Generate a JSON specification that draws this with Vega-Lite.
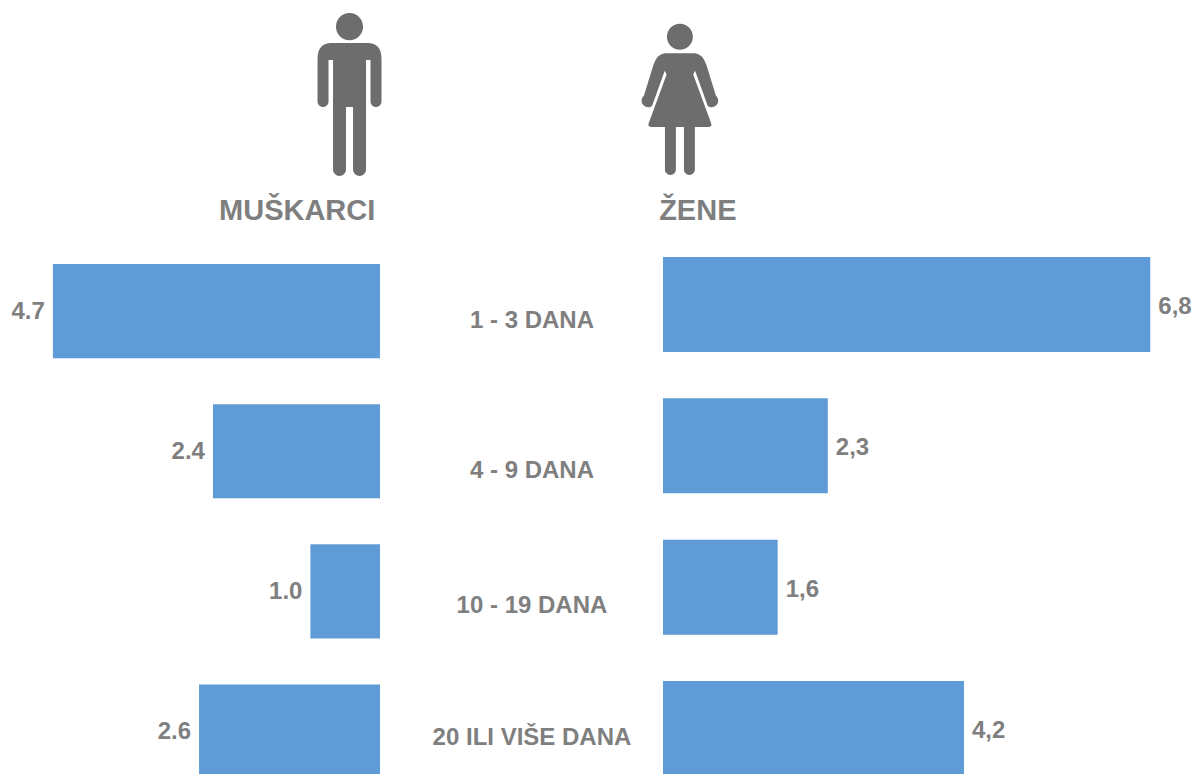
{"$schema":"https://vega.github.io/schema/vega-lite/v6.json","padding":0,"spacing":0,"bounds":"flush","background":"white","config":{"view":{"stroke":null},"text":{"font":"Liberation Sans","fontWeight":"bold","fill":"#7F7F7F"}},"hconcat":[
{"width":380,"height":774,"layer":[
{"data":{"values":[{"group":"1 - 3 DANA","value":4.7},{"group":"4 - 9 DANA","value":2.4},{"group":"10 - 19 DANA","value":1.0},{"group":"20 ILI VIŠE DANA","value":2.6}]},"mark":{"type":"bar","fill":"#5F9BD6","clip":true},"encoding":{"y":{"field":"group","type":"nominal","axis":null,"scale":{"domain":["MUŠKARCI","1 - 3 DANA","4 - 9 DANA","10 - 19 DANA","20 ILI VIŠE DANA"],"range":[124,778.5],"paddingInner":0.3286,"paddingOuter":0}},"x":{"field":"value","type":"quantitative","axis":null,"scale":{"domain":[0,5.46],"reverse":true,"nice":false}}}},
{"data":{"values":[{"group":"1 - 3 DANA","value":4.7,"label":"4.7"},{"group":"4 - 9 DANA","value":2.4,"label":"2.4"},{"group":"10 - 19 DANA","value":1.0,"label":"1.0"},{"group":"20 ILI VIŠE DANA","value":2.6,"label":"2.6"}]},"mark":{"type":"text","fontSize":24,"align":"right","dx":-8,"dy":1},"encoding":{"y":{"field":"group","type":"nominal"},"x":{"field":"value","type":"quantitative"},"text":{"field":"label"}}},
{"data":{"values":[{"group":"MUŠKARCI"}]},"mark":{"type":"text","fontSize":29,"dy":1},"encoding":{"y":{"field":"group","type":"nominal","bandPosition":0.915},"x":{"datum":1.19,"type":"quantitative"},"text":{"field":"group"}}},
{"data":{"values":[{"group":"MUŠKARCI"}]},"mark":{"type":"point","filled":true,"opacity":1,"fill":"#6D6D6D","size":26896,"shape":"M0,-0.998 A0.165,0.165 0 1 1 0,-0.668 A0.165,0.165 0 1 1 0,-0.998 Z M-0.22,-0.634 L0.22,-0.634 Q0.39,-0.634 0.39,-0.44 L0.39,0.08 A0.067,0.067 0 0 1 0.256,0.08 L0.256,-0.427 L0.201,-0.427 L0.201,0.91 A0.079,0.079 0 0 1 0.043,0.91 L0.043,0.146 L-0.043,0.146 L-0.043,0.91 A0.079,0.079 0 0 1 -0.201,0.91 L-0.201,-0.427 L-0.256,-0.427 L-0.256,0.08 A0.067,0.067 0 0 1 -0.39,0.08 L-0.39,-0.44 Q-0.39,-0.634 -0.22,-0.634 Z"},"encoding":{"y":{"field":"group","type":"nominal","bandPosition":-0.309},"x":{"datum":0.438,"type":"quantitative"}}}
]},
{"width":283,"height":774,"data":{"values":[{"group":"1 - 3 DANA","order":1},{"group":"4 - 9 DANA","order":2},{"group":"10 - 19 DANA","order":3},{"group":"20 ILI VIŠE DANA","order":4}]},"mark":{"type":"text","fontSize":24},"encoding":{"y":{"field":"order","type":"quantitative","axis":null,"scale":{"domain":[1,2,3,4],"range":[321,471,606,738]}},"x":{"datum":0.537,"type":"quantitative","axis":null,"scale":{"domain":[0,1],"nice":false}},"text":{"field":"group"}}},
{"width":531,"height":774,"layer":[
{"data":{"values":[{"group":"1 - 3 DANA","value":6.8},{"group":"4 - 9 DANA","value":2.3},{"group":"10 - 19 DANA","value":1.6},{"group":"20 ILI VIŠE DANA","value":4.2}]},"mark":{"type":"bar","fill":"#5F9BD6","clip":true},"encoding":{"y":{"field":"group","type":"nominal","axis":null,"scale":{"domain":["ŽENE","1 - 3 DANA","4 - 9 DANA","10 - 19 DANA","20 ILI VIŠE DANA"],"range":[115.7,776],"paddingInner":0.3277,"paddingOuter":0}},"x":{"field":"value","type":"quantitative","axis":null,"scale":{"domain":[0,7.41],"nice":false}}}},
{"data":{"values":[{"group":"1 - 3 DANA","value":6.8,"label":"6,8"},{"group":"4 - 9 DANA","value":2.3,"label":"2,3"},{"group":"10 - 19 DANA","value":1.6,"label":"1,6"},{"group":"20 ILI VIŠE DANA","value":4.2,"label":"4,2"}]},"mark":{"type":"text","fontSize":24,"align":"left","dx":8,"dy":2.5},"encoding":{"y":{"field":"group","type":"nominal"},"x":{"field":"value","type":"quantitative"},"text":{"field":"label"}}},
{"data":{"values":[{"group":"ŽENE"}]},"mark":{"type":"text","fontSize":29,"dy":1},"encoding":{"y":{"field":"group","type":"nominal","bandPosition":0.993},"x":{"datum":0.486,"type":"quantitative"},"text":{"field":"group"}}},
{"data":{"values":[{"group":"ŽENE"}]},"mark":{"type":"point","filled":true,"opacity":1,"fill":"#6D6D6D","size":23104,"shape":"M0,-0.997 A0.171,0.171 0 1 1 0,-0.655 A0.171,0.171 0 1 1 0,-0.997 Z M-0.197,-0.608 L0.197,-0.608 Q0.30,-0.6 0.35,-0.45 L0.474,-0.05 A0.07,0.07 0 0 1 0.365,0.08 L0.2,-0.38 L0.175,-0.33 L0.41,0.31 Q0.43,0.362 0.37,0.362 L0.197,0.362 L0.197,0.92 A0.072,0.072 0 0 1 0.053,0.92 L0.053,0.362 L-0.053,0.362 L-0.053,0.92 A0.072,0.072 0 0 1 -0.197,0.92 L-0.197,0.362 L-0.37,0.362 Q-0.43,0.362 -0.41,0.31 L-0.175,-0.33 L-0.2,-0.38 L-0.365,0.08 A0.07,0.07 0 0 1 -0.474,-0.05 L-0.35,-0.45 Q-0.30,-0.6 -0.197,-0.608 Z"},"encoding":{"y":{"field":"group","type":"nominal","bandPosition":-0.17},"x":{"datum":0.236,"type":"quantitative"}}}
]}
]}
